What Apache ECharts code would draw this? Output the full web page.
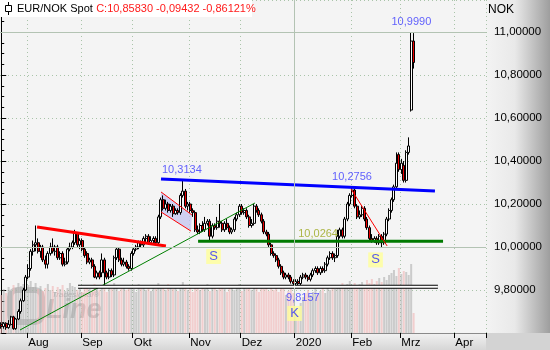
<!DOCTYPE html>
<html><head><meta charset="utf-8">
<script src="https://cdn.jsdelivr.net/npm/echarts@6/dist/echarts.min.js"></script>
<style>html,body{margin:0;padding:0;background:#fff}#c{width:550px;height:350px}</style>
</head><body><div id="c"></div>
<script>
// ---------- categories (weekdays from 2019-07-17 to 2020-04-17) ----------
const startDate = '2019-07-17';
const categoryCount = 198;
const monthStarts = [11, 33, 54, 77, 98, 120, 143, 163, 185];
const monthLabels = ['Aug', 'Sep', 'Okt', 'Nov', 'Dez', '2020', 'Feb', 'Mrz', 'Apr'];
const yTickValues = [9.8, 10.0, 10.2, 10.4, 10.6, 10.8, 11.0];
const solidLevels = [10.0, 11.0];

// ---------- daily candles: [open, close, low, high] ----------
const ohlc = [
[9.64,9.63,9.62,9.65],[9.63,9.645,9.62,9.65],[9.645,9.625,9.615,9.65],[9.625,9.64,9.62,9.66],[9.64,9.675,9.635,9.68],
[9.675,9.62,9.615,9.68],[9.62,9.665,9.615,9.67],[9.665,9.70,9.66,9.71],[9.70,9.75,9.69,9.76],[9.75,9.80,9.745,9.81],
[9.80,9.86,9.795,9.87],[9.86,9.90,9.85,9.92],[9.90,9.98,9.89,9.99],[9.98,10.01,9.96,10.03],[10.01,10.02,9.98,10.10],
[10.02,9.98,9.97,10.04],[9.98,10.0,9.95,10.01],[10.0,9.94,9.93,10.01],[9.94,9.92,9.90,9.96],[9.92,9.97,9.90,9.98],
[9.97,10.0,9.96,10.02],[10.0,9.98,9.97,10.04],[9.98,10.0,9.96,10.01],[10.0,9.95,9.94,10.01],[9.95,9.97,9.94,9.98],
[9.97,9.92,9.91,9.98],[9.92,9.93,9.91,9.95],[9.93,9.99,9.92,10.0],[9.99,10.0,9.98,10.02],[10.0,10.02,9.99,10.03],
[10.02,10.065,10.01,10.08],[10.065,10.01,10.0,10.07],[10.01,10.03,9.99,10.04],[10.03,9.99,9.98,10.04],[9.99,9.96,9.95,10.0],
[9.97,9.93,9.92,9.98],[9.93,9.94,9.92,9.95],[9.94,9.91,9.90,9.95],[9.91,9.86,9.855,9.92],[9.86,9.88,9.85,9.89],
[9.88,9.86,9.85,9.89],[9.88,9.94,9.86,9.97],[9.94,9.88,9.82,9.95],[9.88,9.86,9.85,9.89],[9.86,9.89,9.85,9.90],
[9.89,9.87,9.86,9.90],[9.87,9.95,9.86,9.96],[9.95,9.99,9.94,10.0],[9.99,9.94,9.93,10.0],[9.94,9.92,9.91,9.95],
[9.92,9.93,9.91,9.95],[9.93,9.91,9.90,9.94],[9.91,9.90,9.89,9.92],[9.90,9.97,9.89,9.98],[9.97,9.99,9.96,10.0],
[9.99,10.0,9.98,10.01],[10.0,10.02,9.99,10.03],[10.02,10.01,10.0,10.03],[10.01,10.04,10.0,10.05],[10.04,10.05,10.02,10.06],
[10.05,10.02,10.01,10.06],[10.02,10.03,10.01,10.05],[10.03,10.04,10.01,10.05],[10.04,10.02,10.01,10.05],[10.02,10.14,10.01,10.15],
[10.14,10.22,10.13,10.23],[10.22,10.18,10.17,10.24],[10.18,10.20,10.17,10.22],[10.20,10.17,10.16,10.21],[10.17,10.19,10.16,10.20],
[10.19,10.155,10.14,10.20],[10.155,10.17,10.15,10.18],[10.17,10.16,10.15,10.18],[10.16,10.24,10.15,10.25],[10.24,10.26,10.23,10.3134],
[10.26,10.19,10.18,10.27],[10.19,10.20,10.17,10.21],[10.20,10.17,10.16,10.21],[10.17,10.16,10.14,10.18],[10.16,10.08,10.07,10.17],
[10.08,10.07,10.06,10.10],[10.07,10.10,10.06,10.11],[10.10,10.08,10.07,10.12],[10.08,10.11,10.07,10.14],[10.11,10.12,10.10,10.13],
[10.12,10.05,10.03,10.13],[10.05,10.10,10.04,10.11],[10.10,10.09,10.08,10.11],[10.09,10.12,10.08,10.14],[10.12,10.11,10.09,10.20],
[10.11,10.08,10.07,10.12],[10.08,10.11,10.07,10.12],[10.11,10.09,10.08,10.13],[10.09,10.07,10.06,10.10],[10.07,10.08,10.06,10.09],
[10.08,10.13,10.07,10.14],[10.13,10.15,10.12,10.16],[10.15,10.19,10.14,10.20],[10.19,10.16,10.15,10.20],[10.16,10.17,10.15,10.18],
[10.17,10.14,10.13,10.18],[10.14,10.10,10.09,10.15],[10.10,10.11,10.09,10.13],[10.11,10.19,10.10,10.20],[10.19,10.17,10.16,10.20],
[10.17,10.15,10.14,10.18],[10.15,10.12,10.11,10.16],[10.12,10.07,10.06,10.13],[10.07,10.06,10.05,10.08],[10.06,10.01,10.0,10.07],
[10.01,9.97,9.96,10.02],[9.97,9.96,9.95,9.98],[9.96,9.94,9.93,9.97],[9.94,9.91,9.90,9.95],[9.91,9.88,9.87,9.92],
[9.88,9.86,9.85,9.89],[9.86,9.87,9.85,9.88],[9.87,9.86,9.85,9.88],[9.86,9.84,9.83,9.87],[9.84,9.83,9.8157,9.85],
[9.83,9.84,9.82,9.85],[9.84,9.83,9.82,9.85],[9.83,9.86,9.82,9.87],[9.86,9.87,9.85,9.88],[9.87,9.86,9.85,9.88],
[9.86,9.85,9.84,9.87],[9.85,9.87,9.84,9.88],[9.87,9.89,9.86,9.90],[9.89,9.90,9.88,9.91],[9.90,9.88,9.87,9.91],
[9.88,9.90,9.87,9.91],[9.90,9.89,9.88,9.91],[9.89,9.92,9.88,9.93],[9.92,9.95,9.91,9.96],[9.95,9.97,9.94,9.98],
[9.97,9.95,9.94,9.98],[9.95,9.96,9.93,9.97],[9.96,10.05,9.95,10.08],[10.05,10.08,10.04,10.09],[10.08,10.05,10.04,10.09],
[10.05,10.13,10.04,10.14],[10.13,10.20,10.12,10.21],[10.20,10.24,10.19,10.25],[10.24,10.265,10.23,10.2756],[10.265,10.19,10.18,10.27],
[10.19,10.14,10.13,10.20],[10.14,10.15,10.13,10.17],[10.15,10.18,10.14,10.19],[10.18,10.13,10.12,10.19],[10.13,10.09,10.08,10.14],
[10.09,10.04,10.03,10.10],[10.04,10.03,10.02,10.06],[10.03,10.04,10.02,10.05],[10.04,10.02,10.01,10.05],[10.02,10.05,10.01,10.06],
[10.05,10.02,10.0,10.06],[10.02,10.06,10.01,10.07],[10.06,10.13,10.05,10.14],[10.13,10.17,10.12,10.18],[10.17,10.22,10.16,10.23],
[10.22,10.28,10.21,10.29],[10.28,10.39,10.27,10.44],[10.43,10.36,10.35,10.44],[10.36,10.39,10.34,10.41],[10.38,10.31,10.30,10.40],
[10.31,10.44,10.30,10.45],[10.44,10.47,10.43,10.51],[10.637,10.958,10.63,10.999],[10.958,10.8583,10.83,10.995]
];

// ---------- volume-style bars (relative heights) ----------
const volume = [
38,44,40,46,42,48,45,50,47,49, 51,48,52,46,50,44,47,42,45,49,
43,47,41,46,44,48,42,45,50,47, 46,43,48,41,45,47,44,42,49,46,
43,48,45,41,47,44,50,46,42,45, 47,43,46,48,44,41,49,45,47,43,
46,42,48,44,50,47,45,43,49,46, 44,48,42,47,51,45,43,46,41,48,
45,43,47,44,49,42,46,48,43,45, 47,44,41,46,48,43,45,49,42,47,
44,46,43,48,45,41,47,44,46,42, 45,43,48,41,46,44,38,42,45,40,
25,18,30,36,40,43,38,41,44,39, 42,45,40,47,43,46,44,48,45,50,
47,49,52,48,50,46,49,51,47,53, 50,54,49,52,55,51,56,53,58,60,
63,57,65,59,62,61,58,69,20
];

// ---------- drawn trend lines, in [day index, price] ----------
const redResistance = [[14.6, 10.093], [67.1, 10.005]];
const greenUptrend = [[7.65, 9.614], [103.4, 10.205]];
const flagUpper = [[65.1, 10.256], [77.7, 10.149]];
const flagLower = [[65.1, 10.163], [77.3, 10.074]];
const blueResistance = [[65.1, 10.316], [176.7, 10.260]];
const greenSupport = [[80.2, 10.0264], [180.0, 10.0264]];
const redDowntrend = [[142.5, 10.270], [157.2, 10.005]];
const lowBand = [[31.3, 9.8157], [177.9, 9.8157]];

// ---------- annotations, in [day index, price] ----------
const blueNotes = [['10,3134', 73.6, 10.358], ['10,2756', 142.9, 10.326], ['9,8157', 122.9, 9.763], ['10,9990', 167.1, 11.047]];
const oliveNotes = [['10,0264', 129.1, 10.060]];
const boxNotes = [['S', 86.5, 9.956], ['S', 152.5, 9.940], ['K', 119.5, 9.691]];

const titleName = 'EUR/NOK Spot';
const titleQuote = 'C:10,85830 -0,09432 -0,86121%';
const unitLabel = 'NOK';

// ---------- build ----------
function weekdayDates(start, n) {
  const out = []; const d = new Date(start + 'T12:00:00Z');
  while (out.length < n) {
    const wd = d.getUTCDay();
    if (wd !== 0 && wd !== 6) out.push(d.toISOString().slice(0, 10));
    d.setUTCDate(d.getUTCDate() + 1);
  }
  return out;
}
const dates = weekdayDates(startDate, categoryCount);
const FONT = 'Liberation Sans';

function seg(data, color, width, z) {
  return { type: 'line', xAxisIndex: 1, yAxisIndex: 0, data: data, symbol: 'none', silent: true,
    animation: false, z: z, lineStyle: { color: color, width: width } };
}
function notes(list, labelStyle) {
  return { type: 'scatter', xAxisIndex: 1, yAxisIndex: 0, symbol: 'circle', symbolSize: 1, silent: true,
    animation: false, z: 6, itemStyle: { color: 'rgba(0,0,0,0)' },
    data: list.map(n => ({ value: [n[1], n[2]], name: n[0] })),
    label: Object.assign({ show: true, position: 'inside', formatter: p => p.name, fontFamily: FONT }, labelStyle) };
}

const chart = echarts.init(document.getElementById('c'), null, { renderer: 'canvas' });
chart.setOption({
  animation: false,
  grid: { left: 0, right: 64, top: 0, bottom: 17, show: true, backgroundColor: '#f4f4f4', borderWidth: 0, outerBoundsMode: 'none' },
  xAxis: [
    { type: 'category', data: dates, boundaryGap: true, gridIndex: 0,
      axisLine: { show: true, lineStyle: { color: '#8a8a8a' } },
      axisTick: { show: true, length: 5, interval: i => monthStarts.includes(i), lineStyle: { color: '#000' } },
      axisLabel: { show: true, interval: i => monthStarts.includes(i), align: 'left', margin: 4,
        color: '#000', fontSize: 11.5, fontFamily: FONT,
        formatter: (v, i) => { const k = monthStarts.indexOf(i); return k >= 0 ? monthLabels[k] : ''; } },
      splitLine: { show: true, interval: i => monthStarts.includes(i), lineStyle: { color: '#a9c4a9', type: [1, 3] } } },
    { type: 'value', min: -0.5, max: categoryCount - 0.5, gridIndex: 0, show: false }
  ],
  yAxis: [
    { type: 'value', position: 'right', min: 9.6, max: 11.149, interval: 0.2, gridIndex: 0,
      axisLine: { show: true, lineStyle: { color: '#000' } },
      axisTick: { show: true, length: 5, lineStyle: { color: '#000' } },
      minorTick: { show: true, splitNumber: 4, length: 3, lineStyle: { color: '#000' } },
      axisLabel: { show: true, margin: 8, color: '#000', fontSize: 11.5, fontFamily: FONT,
        formatter: v => yTickValues.some(t => Math.abs(t - v) < 1e-6) ? v.toFixed(5).replace('.', ',') : '' },
      splitLine: { show: true, lineStyle: { color: '#a9c4a9', type: [1, 3] } } },
    { type: 'value', min: 0, max: 333, gridIndex: 0, show: false }
  ],
  graphic: [
    { type: 'rect', z: -10, silent: true, shape: { x: 486, y: 0, width: 64, height: 350 },
      style: { fill: new echarts.graphic.LinearGradient(0, 0, 1, 0, [
        { offset: 0, color: '#f3f3f3' }, { offset: 0.45, color: '#e9e9e9' }, { offset: 1, color: '#9e9e9e' }]) } },
    { type: 'rect', z: -10, silent: true, shape: { x: 0, y: 333, width: 486, height: 17 },
      style: { fill: new echarts.graphic.LinearGradient(0, 0, 0, 1, [
        { offset: 0, color: '#f2f2f2' }, { offset: 1, color: '#d6d6d6' }]) } },
    { type: 'rect', z: -9, silent: true, shape: { x: 486, y: 333, width: 64, height: 17 }, style: { fill: '#d3d3d3' } },
    // watermark logo
    { type: 'group', z: 1, silent: true, children: [
      { type: 'rect', shape: { x: 10, y: 290, width: 32, height: 32, r: 7 }, style: { fill: 'none', stroke: 'rgba(170,170,170,0.6)', lineWidth: 6 } },
      { type: 'text', style: { x: 52, y: 291, text: 'Tradesignal®', fill: 'rgba(160,160,160,0.7)', font: 'italic 8px ' + FONT } },
      { type: 'text', style: { x: 46, y: 297, text: 'Line', fill: 'rgba(165,165,165,0.6)', font: 'bold italic 27px ' + FONT } }
    ] },
    // header
    { type: 'rect', z: 100, silent: true, shape: { x: 0, y: 0, width: 252, height: 17 }, style: { fill: '#ffffff' } },
    { type: 'line', z: 101, silent: true, shape: { x1: 8.5, y1: 2, x2: 8.5, y2: 15 }, style: { stroke: '#000', lineWidth: 1 } },
    { type: 'rect', z: 102, silent: true, shape: { x: 5.5, y: 5.5, width: 6, height: 6 }, style: { fill: '#fff', stroke: '#000', lineWidth: 1 } },
    { type: 'text', z: 101, silent: true, style: { x: 17, y: 9, verticalAlign: 'middle',
      text: '{a|' + titleName + '} {b|' + titleQuote + '}',
      rich: { a: { fill: '#000', fontSize: 11, fontFamily: FONT }, b: { fill: '#ff1a1a', fontSize: 11, fontFamily: FONT } } } },
    { type: 'text', z: 101, silent: true, style: { x: 488, y: 10, text: unitLabel, fill: '#000', font: '12px ' + FONT, verticalAlign: 'middle' } }
  ],
  series: [
    { type: 'line', xAxisIndex: 1, yAxisIndex: 0, data: [], silent: true, z: 1,
      markLine: { silent: true, symbol: 'none', label: { show: false }, animation: false,
        lineStyle: { color: '#b3c3b3', type: 'solid', width: 1 },
        data: solidLevels.map(v => ({ yAxis: v })).concat([{ xAxis: monthStarts[5] - 0.5 }]) } },
    { type: 'bar', xAxisIndex: 0, yAxisIndex: 1, barWidth: 2, silent: true, z: 1,
      data: volume.map((v, i) => ({ value: v, itemStyle: { color: ohlc[i][1] < ohlc[i][0] ? 'rgba(240,175,175,0.55)' : 'rgba(170,170,170,0.55)' } })) },
    { type: 'custom', xAxisIndex: 1, yAxisIndex: 0, silent: true, z: 2, data: [flagUpper[0]],
      renderItem: (params, api) => {
        const pts = flagUpper.concat(flagLower.slice().reverse()).map(p => api.coord(p));
        return { type: 'polygon', shape: { points: pts }, style: { fill: 'rgba(196,196,240,0.75)' } };
      } },
    { type: 'candlestick', xAxisIndex: 0, yAxisIndex: 0, data: ohlc, barWidth: 2.5, z: 3, silent: true,
      itemStyle: { color: '#ffffff', color0: '#ee0000', borderColor: '#000000', borderColor0: '#000000', borderWidth: 1 } },
    seg(flagUpper, '#ff0000', 1, 4),
    seg(flagLower, '#ff0000', 1, 4),
    seg(greenUptrend, '#008000', 1, 4),
    seg(redResistance, '#ff0000', 3, 4),
    seg(blueResistance, '#0000ff', 3, 4),
    seg(greenSupport, '#007a00', 3, 4),
    seg(redDowntrend, '#ff0000', 1, 4),
    seg(lowBand, '#000000', 4, 4),
    seg(lowBand, '#ffffff', 2, 5),
    notes(blueNotes, { color: '#3a3aff', fontSize: 11 }),
    notes(oliveNotes, { color: '#9aa61a', fontSize: 11 }),
    notes(boxNotes, { color: '#2a2aff', fontSize: 13, backgroundColor: '#ffff99', padding: [1, 3, 1, 3] })
  ]
});
</script></body></html>
